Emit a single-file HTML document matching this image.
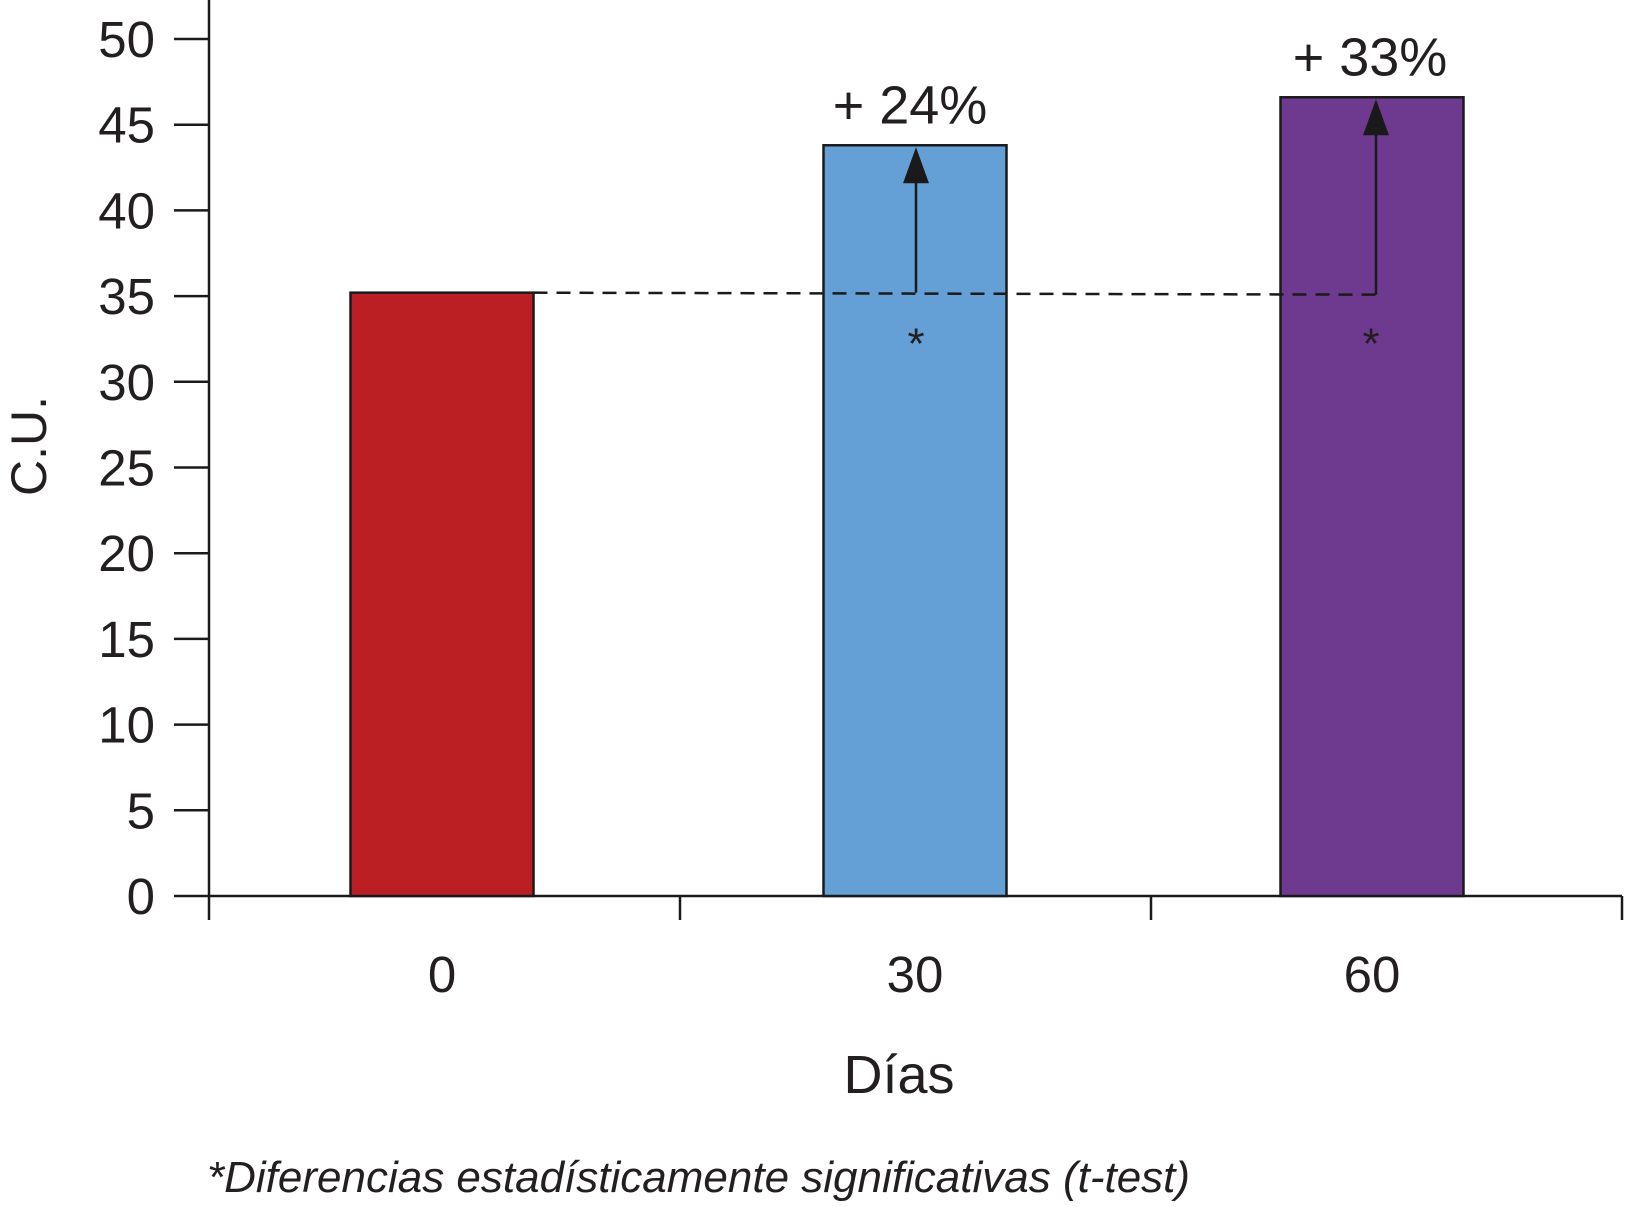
<!DOCTYPE html>
<html><head><meta charset="utf-8"><style>
body{margin:0;background:#fff;}
svg{display:block;font-family:"Liberation Sans",sans-serif;}
</style></head><body>
<svg id="chart" width="1625" height="1207" viewBox="0 0 1625 1207">
<g id="g"></g>
</svg>
<script>
const categories = ["0", "30", "60"];
const values = [35.2, 43.8, 46.6];
const colors = ["#bb1e23", "#64a0d6", "#6e3a8f"];
const yTicks = [0,5,10,15,20,25,30,35,40,45,50];
const annotations = ["", "+ 24%", "+ 33%"];

const NS = "http://www.w3.org/2000/svg";
const g = document.getElementById("g");
const x0 = 209, x1 = 1622, yBase = 896, pxPerUnit = 17.14;
const y = v => yBase - v * pxPerUnit;
const band = (x1 - x0) / categories.length;
const xc = i => 442 + i * 465 + (i === 1 ? 8 : 0);
const barW = 183;
function el(tag, attrs, text){
  const e = document.createElementNS(NS, tag);
  for (const k in attrs) e.setAttribute(k, attrs[k]);
  if (text !== undefined) e.textContent = text;
  g.appendChild(e);
  return e;
}
let a = el("line",{x1:x0,y1:0,x2:x0,y2:yBase,stroke:"#1a1a1a","stroke-width":2.5});


yTicks.forEach(t=>{
  const tl = el("line",{x1:174,y1:y(t),x2:x0,y2:y(t),stroke:"#1a1a1a","stroke-width":2.5});
  
  
  const tx = el("text",{x:155,y:y(t)+18,"text-anchor":"end","font-size":51,fill:"#231f20"}, t);
  
  
});
a = el("line",{x1:x0,y1:yBase,x2:x1,y2:yBase,stroke:"#1a1a1a","stroke-width":2.5});


for(let i=0;i<=categories.length;i++){
  const xx = x0 + band*i;
  const tl = el("line",{x1:xx,y1:yBase,x2:xx,y2:yBase+24,stroke:"#1a1a1a","stroke-width":2.5});
  
  
}
categories.forEach((c,i)=>{
  const b = el("rect",{x:xc(i)-barW/2,y:y(values[i]),width:barW,height:yBase-y(values[i]),fill:colors[i],stroke:"#1a1a1a","stroke-width":2.5});
  
  
  const t = el("text",{x:xc(i),y:992,"text-anchor":"middle","font-size":51,fill:"#231f20"}, c);
  
  
});
const base = values[0];
const xArrowEnd = xc(2)+4;
const d = el("line",{x1:xc(0)+barW/2,y1:y(base),x2:xArrowEnd,y2:y(base)+2,stroke:"#1a1a1a","stroke-width":2.5,"stroke-dasharray":"14 9"});


[1,2].forEach(i=>{
  const ax = xc(i)+(i===1?1:4);
  const top = y(values[i]) + 2;
  const l = el("line",{x1:ax,y1:y(base)+(i===2?2:0),x2:ax,y2:top+30,stroke:"#1a1a1a","stroke-width":2.5});
  
  
  const p = el("polygon",{points:`${ax-13},${top+36} ${ax+13},${top+36} ${ax},${top}`,fill:"#1a1a1a"});
  
  
  const s = el("text",{x:ax-(i===2?5:0),y:y(base)+66,"text-anchor":"middle","font-size":44,fill:"#231f20"},"*");
  
  
  const an = el("text",{x:ax-6,y:y(values[i])-22,"text-anchor":"middle","font-size":54,fill:"#231f20"},annotations[i]);
  
  
});
let t = el("text",{x:899,y:1093,"text-anchor":"middle","font-size":54,fill:"#231f20"},"Días");


t = el("text",{x:46,y:446,"text-anchor":"middle","font-size":50,fill:"#231f20",transform:"rotate(-90 46 446)"},"C.U.");


t = el("text",{x:207,y:1192,"font-size":44,"font-style":"italic",fill:"#231f20"},"*Diferencias estadísticamente significativas (t-test)");


</script>
</body></html>
